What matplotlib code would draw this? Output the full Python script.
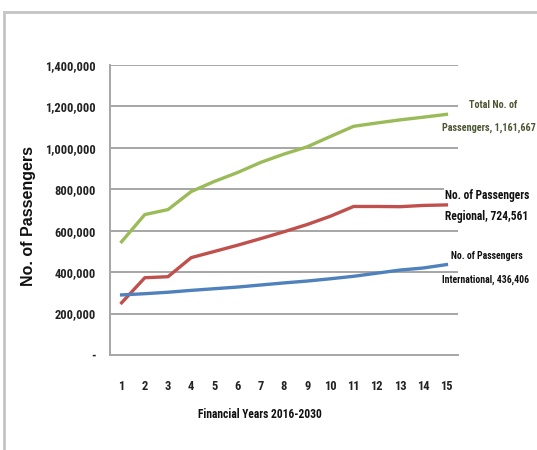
import matplotlib
matplotlib.use("Agg")
import matplotlib.pyplot as plt
from matplotlib import font_manager
from matplotlib.patches import Rectangle
from matplotlib.ticker import FuncFormatter

years = list(range(1, 16))
total = [547000, 678000, 702000, 789000, 838000, 881000, 930000, 970000,
         1005000, 1055000, 1104000, 1120000, 1135000, 1148000, 1161667]
regional = [252000, 373000, 378000, 470000, 500000, 530000, 562000, 595000,
            630000, 670000, 717000, 717000, 716000, 722000, 724561]
international = [290000, 296000, 303000, 312000, 320000, 328000, 338000, 348000,
                 357000, 368000, 380000, 395000, 410000, 420000, 436406]
yticks = [0, 200000, 400000, 600000, 800000, 1000000, 1200000, 1400000]


def first_available(names):
    for name in names:
        try:
            font_manager.findfont(font_manager.FontProperties(family=name),
                                  fallback_to_default=False)
            return name
        except ValueError:
            continue
    return "DejaVu Sans"


narrow = [first_available(["Liberation Sans Narrow", "DejaVu Sans Condensed",
                           "Roboto Condensed", "Liberation Sans"]), "DejaVu Sans"]

fig = plt.figure(figsize=(5.37, 4.5), dpi=100)
fig.patch.set_facecolor("white")

# outer chart frame
fig.patches.append(Rectangle((4 / 537, -0.05), 1.2, 1 - 12 / 450 + 0.05,
                             transform=fig.transFigure, fill=False,
                             edgecolor="#c4c4c4", linewidth=2.0))

ax = fig.add_axes([110 / 537, 1 - 355 / 450, 348 / 537, 290 / 450])
ax.set_xlim(0.5, 15.5)
ax.set_ylim(0, 1400000)
ax.set_yticks(yticks)
ax.yaxis.set_major_formatter(FuncFormatter(lambda v, p: "-" if v == 0 else f"{int(v):,}"))
ax.set_xticks(years)
ax.grid(axis="y", color="#a6a6a6", linewidth=1.4)
ax.set_axisbelow(True)
for s in ("top", "right"):
    ax.spines[s].set_visible(False)
for s in ("left", "bottom"):
    ax.spines[s].set_color("#a6a6a6")
    ax.spines[s].set_linewidth(1.4)
ax.tick_params(length=0)
ax.tick_params(axis="y", pad=10.5)
ax.tick_params(axis="x", pad=18)
for lab in ax.get_xticklabels() + ax.get_yticklabels():
    lab.set_family(narrow)
    lab.set_fontweight("bold")
    lab.set_fontsize(9)
    lab.set_color("#222222")

ax.plot(years, total, color="#9bbb59", linewidth=2.4, solid_joinstyle="round")
ax.plot(years, regional, color="#c0504d", linewidth=2.4, solid_joinstyle="round")
ax.plot(years, international, color="#4f81bd", linewidth=2.4, solid_joinstyle="round")

box = dict(facecolor="white", edgecolor="none", pad=1.0)
common = dict(textcoords="offset points", ha="left", va="center", family=narrow,
              fontweight="bold", bbox=box, annotation_clip=False)
ax.annotate("Total No. of", (15, total[-1]), xytext=(16, 7), fontsize=7.3,
            color="#4d5533", **common)
ax.annotate(f"Passengers, {total[-1]:,}", (15, total[-1]), xytext=(-3, -9.5), fontsize=7.3,
            color="#4d5533", **common)
ax.annotate("No. of Passengers", (15, regional[-1]), xytext=(-1, 7), fontsize=8.3,
            color="#111111", **common)
ax.annotate(f"Regional, {regional[-1]:,}", (15, regional[-1]), xytext=(-1, -8), fontsize=8.3,
            color="#111111", **common)
ax.annotate("No. of Passengers", (15, international[-1]), xytext=(3, 6.5), fontsize=7,
            color="#111111", **common)
ax.annotate(f"International, {international[-1]:,}", (15, international[-1]), xytext=(-3, -11),
            fontsize=7, color="#111111", **common)

fig.text(29 / 537, 1 - 216 / 450, "No. of Passengers", rotation=90, ha="center", va="center",
         family=["Liberation Sans", "DejaVu Sans"], fontweight="bold", fontsize=11.5,
         color="#111111")
fig.text(260 / 537, 1 - 415 / 450, "Financial Years 2016-2030", ha="center", va="center",
         family=narrow, fontweight="bold", fontsize=8.3, color="#111111")

fig.savefig("out.png", dpi=100)
